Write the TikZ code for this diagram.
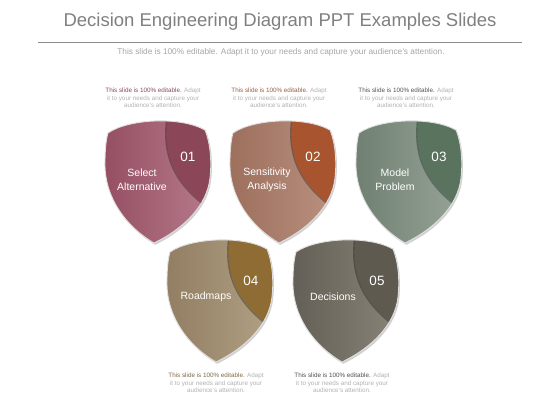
\documentclass[tikz,border=0pt]{standalone}
\usepackage{fontspec}
\setmainfont{Liberation Sans}
\begin{document}
\begin{tikzpicture}[x=1pt,y=-1pt,
  titletext/.style={text=black!50, font=\fontsize{18.5}{22}\selectfont},
  subtext/.style={text=black!35, font=\fontsize{8.3}{10}\selectfont},
  desctext/.style={text=black!30, align=center, font=\fontsize{6.3}{7.5}\selectfont},
  labeltext/.style={text=white, align=center, font=\fontsize{10.5}{14}\selectfont},
  numtext/.style={text=white, font=\fontsize{13.5}{15}\selectfont},
  rim/.style={draw=white!88!black, line width=0.9pt},
  seam/.style={draw=black, opacity=0.3, line width=1.4pt}]
\useasboundingbox (0,0) rectangle (560,420);
\fill[white] (0,0) rectangle (560,420);
\def\shieldP{(108,133) .. controls (128,119) and (180,116) .. (205,130) .. controls (210,142) and (212,160) .. (210,178) .. controls (207,205) and (185,228) .. (154,243) .. controls (125,226) and (104,196) .. (105,162) .. controls (105,150) and (106,140) .. (108,133) -- cycle}
\def\darkP{(166,110) -- (167,121) .. controls (163,160) and (178,186) .. (212,210) -- (230,210) -- (230,110) -- cycle}
\def\seamP{(167,121) .. controls (163,160) and (178,186) .. (212,210)}
% title
\node[titletext] (title) at (280,22) {Decision Engineering Diagram PPT Examples Slides};
\draw[black!45, line width=0.8pt] (38,42) coordinate (ls) -- (522,42) coordinate (le);
\node[subtext] (sub) at (281,52) {This slide is 100\% editable. Adapt it to your needs and capture your audience's attention.};
\newcommand\myshield[5]{% dx dy leftcol rightcol darkcol
  \begin{scope}[shift={(#1,#2)}]
    \fill[black, opacity=0.18] [shift={(1.2,1.8)}] \shieldP;
    \path[left color=#3, right color=#4] \shieldP;
    \begin{scope}
      \clip \shieldP;
      \fill[#5] \darkP;
      \draw[seam] [shift={(-0.6,0.6)}] \seamP;
    \end{scope}
    \path[rim] \shieldP;
  \end{scope}}
\definecolor{a1}{HTML}{954F62}\definecolor{b1}{HTML}{B77B8B}\definecolor{c1}{HTML}{8B4757}\definecolor{t1}{HTML}{8B4A5A}
\definecolor{a2}{HTML}{9D6F5D}\definecolor{b2}{HTML}{BB917F}\definecolor{c2}{HTML}{A8542F}\definecolor{t2}{HTML}{9A5E42}
\definecolor{a3}{HTML}{6F7F71}\definecolor{b3}{HTML}{97A599}\definecolor{c3}{HTML}{5A735F}\definecolor{t3}{HTML}{505550}
\definecolor{a4}{HTML}{927E62}\definecolor{b4}{HTML}{B1A185}\definecolor{c4}{HTML}{8E6C34}\definecolor{t4}{HTML}{7E6A45}
\definecolor{a5}{HTML}{645F56}\definecolor{b5}{HTML}{888478}\definecolor{c5}{HTML}{5E5A50}\definecolor{t5}{HTML}{505050}
\myshield{0}{0}{a1}{b1}{c1}
\myshield{125}{0}{a2}{b2}{c2}
\myshield{251}{0}{a3}{b3}{c3}
\myshield{62}{119}{a4}{b4}{c4}
\myshield{188}{119}{a5}{b5}{c5}
% labels
\node[labeltext] (l1) at (142,180) {Select\\Alternative};
\node[labeltext] (l2) at (267,180) {Sensitivity\\Analysis};
\node[labeltext] (l3) at (395,180) {Model\\Problem};
\node[labeltext] (l4) at (206,297) {Roadmaps};
\node[labeltext] (l5) at (333,297) {Decisions};
\node[numtext] (n1) at (188,157) {01};
\node[numtext] (n2) at (313,157) {02};
\node[numtext] (n3) at (439,157) {03};
\node[numtext] (n4) at (251,281) {04};
\node[numtext] (n5) at (377,281) {05};
% descriptions
\node[desctext] (d1) at (153,98) {\textcolor{t1}{This slide is 100\% editable.} Adapt\\it to your needs and capture your\\audience's attention.};
\node[desctext] (d2) at (279,98) {\textcolor{t2}{This slide is 100\% editable.} Adapt\\it to your needs and capture your\\audience's attention.};
\node[desctext] (d3) at (406,98) {\textcolor{t3}{This slide is 100\% editable.} Adapt\\it to your needs and capture your\\audience's attention.};
\node[desctext] (d4) at (216,383) {\textcolor{t4}{This slide is 100\% editable.} Adapt\\it to your needs and capture your\\audience's attention.};
\node[desctext] (d5) at (342,383) {\textcolor{t5}{This slide is 100\% editable.} Adapt\\it to your needs and capture your\\audience's attention.};
\end{tikzpicture}
\end{document}
